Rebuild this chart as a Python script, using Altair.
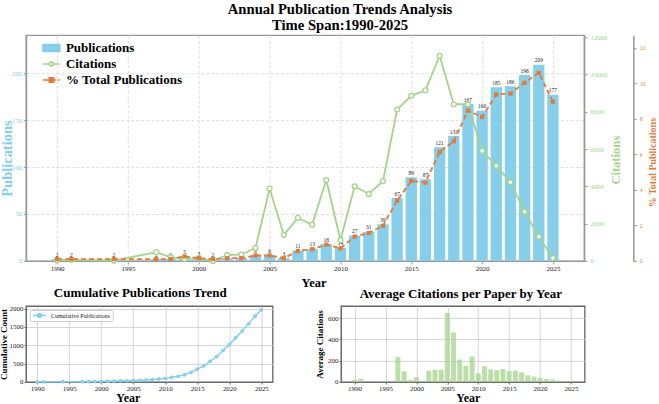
import altair as alt
import pandas as pd

years = [1990, 1991, 1994, 1997, 1998, 1999, 2000, 2001, 2002, 2003, 2004, 2005, 2006, 2007, 2008, 2009,
         2010, 2011, 2012, 2013, 2014, 2015, 2016, 2017, 2018, 2019, 2020, 2021, 2022, 2023, 2024, 2025]
publications = [2, 2, 2, 2, 2, 5, 3, 2, 3, 3, 6, 6, 3, 11, 13, 18,
                14, 27, 31, 39, 67, 89, 87, 121, 133, 167, 160, 185, 186, 198, 209, 177]
citations = [40, 60, 20, 470, 200, 100, 135, 0, 315, 345, 690, 3880, 1400, 2310, 1940, 4340,
             1110, 4000, 3590, 4270, 8120, 8850, 9150, 11000, 8400, 8400, 5900, 5100, 4220, 2640, 1300, 150]
avg_citations = [20, 30, 10, 235, 100, 20, 45, 0, 105, 115, 115, 648, 465, 210, 150, 240,
                 80, 148, 116, 110, 121, 100, 105, 91, 63, 50, 37, 28, 23, 13, 6, 1]
legend_names = ["Publications", "Citations", "% Total Publications"]
x_ticks = [1990, 1995, 2000, 2005, 2010, 2015, 2020, 2025]
pub_ticks = [0, 50, 100, 150, 200]
cit_ticks = [0, 2000, 4000, 6000, 8000, 10000, 12000]
pct_ticks = [0, 2, 4, 6, 8, 10, 12]
cum_ticks = [0, 500, 1000, 1500, 2000]
avg_ticks = [0, 200, 400, 600]

df = pd.DataFrame({"year": years, "pubs": publications, "cit": citations, "avg": avg_citations})
total = sum(publications)
pub_max = max(publications) * 1.15
cit_max = max(citations) * 1.1
pct_max = max(publications) / total * 100 * 1.2
cum_max = total * 1.05
avg_max = max(avg_citations) * 1.1

SERIF = "Liberation Serif"
BLUE = "#87CEEB"
GREEN = "#A6D38C"
ORANGE = "#E07B39"
GRAY = "#999999"

W, H = 559, 226

xscale = alt.Scale(domain=[1987.8, 2027.2], nice=False, zero=False)
main_x_axis = alt.Axis(values=x_ticks, format="d", title="Year", grid=True, gridDash=[3, 2],
                       gridColor="#d4d4d4", gridWidth=0.8, labelFontSize=7, titleFontSize=12.5,
                       titlePadding=5, titleX=288, tickSize=3, labelPadding=1, domainColor=GRAY,
                       tickColor=GRAY, domainWidth=1.3)
pub_scale = alt.Scale(domain=[0, pub_max], nice=False)
pub_axis = alt.Axis(values=pub_ticks, format="d", title="Publications", titleColor=BLUE,
                    labelColor=BLUE, grid=True, gridDash=[3, 2], gridColor="#d4d4d4", gridWidth=0.8,
                    labelFontSize=7, titleFontSize=14.5, tickSize=2.5, labelPadding=1.5,
                    domainColor=GRAY, tickColor=GRAY, domainWidth=1.5, titleAngle=270,
                    titleBaseline="alphabetic", titleX=-14.5, titleY=123)

bars = alt.Chart(df).transform_calculate(
    x0="datum.year - 0.4", x1="datum.year + 0.4"
).mark_bar(color=BLUE).encode(
    x=alt.X("x0:Q", scale=xscale, axis=main_x_axis),
    x2="x1:Q",
    y=alt.Y("pubs:Q", scale=pub_scale, axis=pub_axis),
    y2=alt.datum(0),
)
bar_labels = alt.Chart(df).mark_text(font=SERIF, fontSize=5.5, baseline="alphabetic", dy=-2.5,
                                     color="#222222").encode(
    x=alt.X("year:Q", scale=xscale, axis=main_x_axis),
    y=alt.Y("pubs:Q", scale=pub_scale, axis=pub_axis),
    text="pubs:Q",
)
pub_layer = alt.layer(bars, bar_labels)

cit_line = alt.Chart(df).mark_line(
    color=GREEN, strokeWidth=1.8,
    point=alt.OverlayMarkDef(filled=False, fill="white", stroke=GREEN, size=24, strokeWidth=1.3),
).encode(
    x=alt.X("year:Q", scale=xscale, axis=main_x_axis),
    y=alt.Y("cit:Q", scale=alt.Scale(domain=[0, cit_max], nice=False),
            axis=alt.Axis(orient="right", values=cit_ticks, format="d", title="Citations",
                          titleColor=GREEN, labelColor=GREEN, grid=False, labelFontSize=6.7,
                          titleFontSize=12.5, tickSize=3, labelPadding=3, domainColor=GRAY,
                          tickColor=GRAY, domainWidth=1.5, titleAngle=270,
                          titleBaseline="alphabetic", titleX=35.3, titleY=124.7)),
)

pct_line = alt.Chart(df).transform_calculate(
    pct=f"datum.pubs / {total} * 100"
).mark_line(
    color=ORANGE, strokeWidth=1.8, strokeDash=[5, 3],
    point=alt.OverlayMarkDef(shape="square", filled=True, color=ORANGE, size=18),
).encode(
    x=alt.X("year:Q", scale=xscale, axis=main_x_axis),
    y=alt.Y("pct:Q", scale=alt.Scale(domain=[0, pct_max], nice=False),
            axis=alt.Axis(orient="right", offset=49.3, values=pct_ticks, format="d",
                          title="% Total Publications", titleColor=ORANGE, labelColor=ORANGE,
                          grid=False, labelFontSize=5.5, titleFontSize=10, tickSize=3,
                          labelPadding=3, domainColor=GRAY, tickColor=GRAY, domainWidth=1.5,
                          titleAngle=270, titleBaseline="alphabetic", titleX=22.5, titleY=127)),
)

paths = [
    "M-1,-0.4L1,-0.4L1,0.4L-1,0.4Z",
    "M-1,0L-0.24,0M0.24,0L1,0M-0.24,0A0.24,0.24,0,1,1,0.24,0A0.24,0.24,0,1,1,-0.24,0Z",
    "M-1,0L-0.3,0M0.3,0L0.6,0M0.8,0L1,0M-0.26,-0.26L0.26,-0.26L0.26,0.26L-0.26,0.26Z",
]
main_legend = alt.Legend(title=None, orient="none", legendX=16, legendY=5, labelFont=SERIF,
                         labelFontSize=13, labelFontWeight="bold", labelColor="black",
                         symbolSize=289, symbolStrokeWidth=1.5, labelOffset=5, rowPadding=0,
                         clipHeight=15.5, padding=0)
legend_layer = alt.Chart(pd.DataFrame({"series": legend_names})).transform_filter("false").mark_point(
    filled=True, opacity=1
).encode(
    shape=alt.Shape("series:N", scale=alt.Scale(domain=legend_names, range=paths), legend=main_legend),
    fill=alt.Fill("series:N", scale=alt.Scale(domain=legend_names, range=[BLUE, "white", ORANGE]),
                  legend=main_legend),
    stroke=alt.Stroke("series:N", scale=alt.Scale(domain=legend_names, range=[BLUE, GREEN, ORANGE]),
                      legend=main_legend),
)

main = alt.layer(pub_layer, cit_line, pct_line, legend_layer).resolve_scale(
    y="independent"
).properties(
    width=W, height=H,
    title=alt.TitleParams(["Annual Publication Trends Analysis", "Time Span:1990-2025"],
                          font=SERIF, fontSize=14.7, fontWeight="bold", anchor="middle",
                          frame="group", dx=35, offset=1.3, lineHeight=16.6, color="black"),
)

# ---- bottom panels ----
BOT_FRAME = "#666666"


def bottom_x_axis(title_x):
    return alt.Axis(values=x_ticks, format="d", title="Year", grid=True, gridColor="#cccccc",
                    gridWidth=0.8, labelFontSize=7, titleFontSize=12, titlePadding=1.5,
                    titleX=title_x, tickSize=2, labelPadding=0.5, domainColor=BOT_FRAME,
                    tickColor=BOT_FRAME)


def bottom_y_axis(vals, title, tpad):
    return alt.Axis(values=vals, format="d", title=title, grid=True, gridColor="#cccccc",
                    gridWidth=0.8, labelFontSize=7, titleFontSize=9, titlePadding=tpad,
                    tickSize=2, labelPadding=1, domainColor=BOT_FRAME, tickColor=BOT_FRAME)


cum_legend = alt.Legend(title=None, orient="top-left", offset=4,
                        symbolType="M-1,0L1,0M-0.3,0A0.3,0.3,0,1,1,0.3,0A0.3,0.3,0,1,1,-0.3,0Z",
                        symbolSize=169, symbolStrokeWidth=1.5, symbolFillColor=BLUE,
                        labelFontSize=6, labelFont=SERIF, labelFontWeight="normal",
                        labelColor="#222222", strokeColor="#cccccc", fillColor="white",
                        padding=2, cornerRadius=2, labelOffset=4, clipHeight=7)
cum = alt.Chart(df).transform_window(
    cum="sum(pubs)", sort=[alt.SortField("year")], frame=[None, 0]
).transform_calculate(series="'Cumulative Publications'").mark_line(
    strokeWidth=1.5, point=alt.OverlayMarkDef(filled=True, size=14)
).encode(
    x=alt.X("year:Q", scale=alt.Scale(domain=[1988.25, 2026.75], nice=False, zero=False),
            axis=bottom_x_axis(102)),
    y=alt.Y("cum:Q", scale=alt.Scale(domain=[0, cum_max], nice=False),
            axis=bottom_y_axis(cum_ticks, "Cumulative Count", 0)),
    color=alt.Color("series:N", scale=alt.Scale(range=[BLUE]), legend=cum_legend),
).properties(
    width=247, height=76,
    view=alt.ViewBackground(stroke=BOT_FRAME, strokeWidth=1.3),
    title=alt.TitleParams("Cumulative Publications Trend", font=SERIF, fontSize=13,
                          fontWeight="bold", anchor="middle", offset=5, dx=-9, color="black"),
)

avg_chart = alt.Chart(df).transform_calculate(
    x0="datum.year - 0.4", x1="datum.year + 0.4"
).mark_bar(color="#A6D38C", opacity=0.75).encode(
    x=alt.X("x0:Q", scale=alt.Scale(domain=[1987.8, 2027.2], nice=False, zero=False),
            axis=bottom_x_axis(127)),
    x2="x1:Q",
    y=alt.Y("avg:Q", scale=alt.Scale(domain=[0, avg_max], nice=False),
            axis=bottom_y_axis(avg_ticks, "Average Citations", 3)),
    y2=alt.datum(0),
).properties(
    width=244, height=76,
    view=alt.ViewBackground(stroke=BOT_FRAME, strokeWidth=1.3),
    title=alt.TitleParams("Average Citations per Paper by Year", font=SERIF, fontSize=13,
                          fontWeight="bold", anchor="middle", offset=5, dx=-2, color="black"),
)

bottom = alt.hconcat(cum, avg_chart, spacing=68.5, bounds="flush").resolve_scale(
    color="independent"
).resolve_legend(color="independent")

chart = alt.vconcat(main, bottom, spacing=45.2, bounds="flush").resolve_scale(
    color="independent", fill="independent", stroke="independent", shape="independent"
).resolve_legend(
    color="independent", fill="independent", stroke="independent", shape="independent"
).properties(
    padding={"left": -2, "top": 0, "right": 0, "bottom": 0},
    background="white",
).configure_axis(
    labelFont=SERIF, titleFont=SERIF, titleFontWeight="bold", labelColor="#222222", titleColor="black"
).configure_view(stroke=GRAY, strokeWidth=1.3)

chart.save("out.html", embed_options={"renderer": "svg", "actions": False})
